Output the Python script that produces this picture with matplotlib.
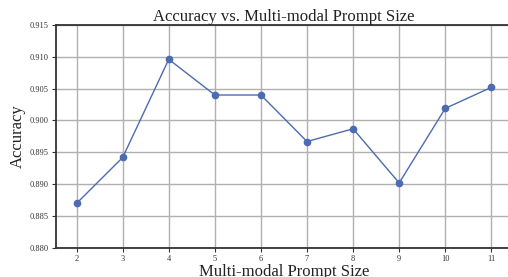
import numpy as np
import matplotlib.pyplot as plt

# Data
prompt_size = [2, 3, 4, 5, 6, 7, 8, 9, 10, 11]
accuracy = [0.8870, 0.8942, 0.9096, 0.9040, 0.9040, 0.8967, 0.8987, 0.8902, 0.9019, 0.9052]
y_ticks = [0.880, 0.885, 0.890, 0.895, 0.900, 0.905, 0.910, 0.915]

plt.rcParams['font.family'] = ['Liberation Serif', 'DejaVu Serif']

fig = plt.figure(figsize=(5.08, 2.77), dpi=100)
ax = fig.add_axes([0.110, 0.105, 0.898, 0.805])

ax.plot(prompt_size, accuracy, marker='o', color='#4C6BB0', linewidth=1.0, markersize=4.5)

ax.set_xlim(1.55, 11.45)
ax.set_ylim(0.880, 0.915)
ax.set_xticks(prompt_size)
ax.set_yticks(y_ticks)
ax.set_yticklabels([f"{v:.3f}" for v in y_ticks])
ax.tick_params(labelsize=6, colors='#333333', length=3, width=0.8, pad=2)

ax.grid(True, color='#b0b0b0', linewidth=1.0)
ax.set_axisbelow(True)
for s in ['left', 'bottom', 'top', 'right']:
    ax.spines[s].set_color('#333333')
    ax.spines[s].set_linewidth(1.3)

ax.set_title('Accuracy vs. Multi-modal Prompt Size', fontsize=12, color='#222222', pad=2)
ax.set_xlabel('Multi-modal Prompt Size', fontsize=12, color='#222222', labelpad=1)
ax.set_ylabel('Accuracy', fontsize=12, color='#222222', labelpad=3)

fig.savefig('out.png', dpi=100)
